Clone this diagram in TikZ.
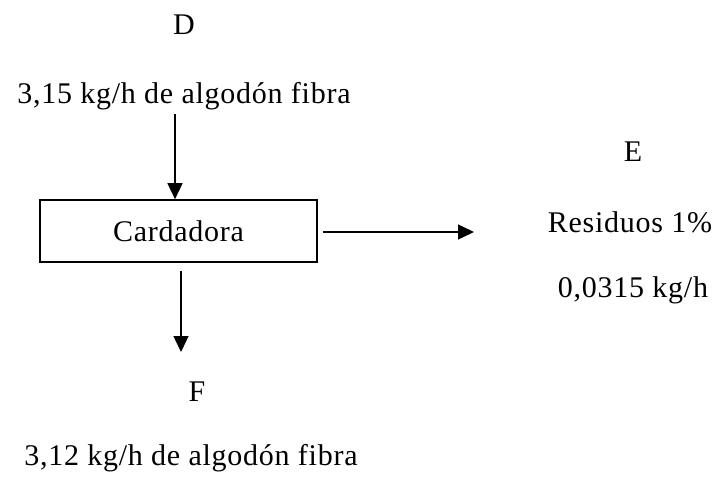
\documentclass[tikz,border=0pt]{standalone}
\usepackage{fontspec}
\setmainfont{Liberation Serif}[LetterSpace=2.5]
\usetikzlibrary{arrows.meta}

\begin{document}
\begin{tikzpicture}[
    x=1pt, y=-1pt,
    every node/.style={font=\fontsize{30}{34}\selectfont, inner sep=0pt},
    unit/.style={draw, line width=1.6pt, minimum width=277pt, minimum height=62pt},
    flow/.style={-{Triangle[length=16pt, width=15pt]}, line width=1.4pt}
  ]
    \useasboundingbox (0,0) rectangle (721,479);
    \node (D) at (184,25) {D};
    \node (dtext) at (184,96) {3,15 kg/h de algodón fibra};
    \node[unit] (card) at (178.5,231) {Cardadora};
    \node (E) at (633,152) {E};
    \node (etext) at (630,222) {Residuos 1\%};
    \node (ekg) at (633,290) {0,0315 kg/h};
    \node (F) at (197,392) {F};
    \node (ftext) at (191,458) {3,12 kg/h de algodón fibra};
    \coordinate (eend) at (474,232);
    \coordinate (fend) at (181,352);
    \draw[flow] (175,114) -- (card.north -| 175,0);
    \draw[flow] (card.east |- eend) ++(5,0) -- (eend);
    \draw[flow] (181,271) -- (fend);
  \end{tikzpicture}
\end{document}
